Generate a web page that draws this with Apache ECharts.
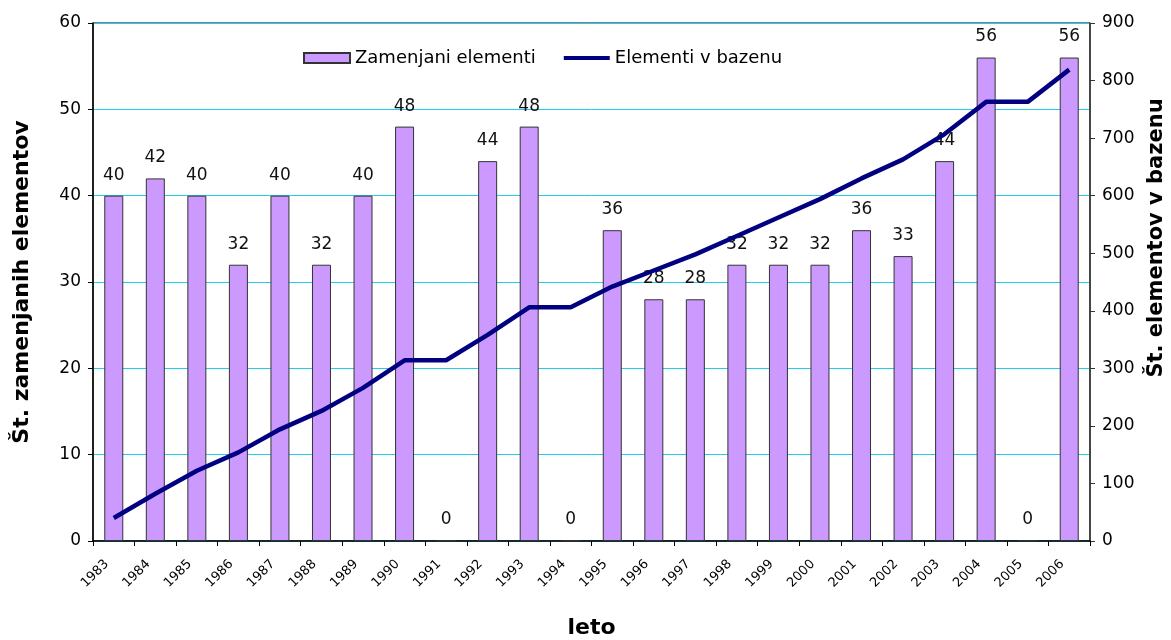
<!DOCTYPE html>
<html>
<head>
<meta charset="utf-8">
<script src="https://cdn.jsdelivr.net/npm/echarts@6/dist/echarts.min.js"></script>
<style>
  html, body { margin: 0; padding: 0; background: #fff; }
  #chart { width: 1171px; height: 640px; }
</style>
</head>
<body>
<div id="chart"></div>
<script>
// leto (years)
var years = ['1983', '1984', '1985', '1986', '1987', '1988', '1989', '1990', '1991', '1992', '1993', '1994',
             '1995', '1996', '1997', '1998', '1999', '2000', '2001', '2002', '2003', '2004', '2005', '2006'];
// zamenjani elementi (bars, left axis)
var replaced = [40, 42, 40, 32, 40, 32, 40, 48, 0, 44, 48, 0,
                36, 28, 28, 32, 32, 32, 36, 33, 44, 56, 0, 56];
// elementi v bazenu (line, right axis)
var inPool = [40, 82, 122, 154, 194, 226, 266, 314, 314, 358, 406, 406,
              442, 470, 498, 530, 562, 594, 630, 663, 707, 763, 763, 819];

var font = 'DejaVu Sans, Verdana, sans-serif';
var gridCyan = '#22ccee';

var chart = echarts.init(document.getElementById('chart'));
chart.setOption({
  animation: false,
  textStyle: { fontFamily: font },
  grid: {
    left: 93, right: 81, top: 23, bottom: 99,
    outerBoundsMode: 'none',
    show: true, borderColor: '#000', borderWidth: 1, backgroundColor: 'transparent'
  },
  legend: {
    left: 298, top: 44,
    itemWidth: 46, itemHeight: 10, itemGap: 26,
    textStyle: { fontSize: 18, color: '#000', fontFamily: font },
    data: [
      { name: 'Zamenjani elementi', icon: 'rect' },
      { name: 'Elementi v bazenu', itemStyle: { opacity: 0 }, lineStyle: { width: 4, color: '#000080' } }
    ]
  },
  xAxis: {
    type: 'category',
    data: years,
    name: 'leto',
    nameLocation: 'middle',
    nameGap: 76,
    nameTextStyle: { fontSize: 22, fontWeight: 'bold', color: '#000' },
    axisLine: { lineStyle: { color: '#000', width: 1.5 } },
    axisTick: { show: true, length: 5, lineStyle: { color: '#000' } },
    axisLabel: { rotate: 45, fontSize: 13, color: '#000', margin: 14, padding: [0, 10, 0, 0] },
    splitLine: { show: false }
  },
  yAxis: [
    {
      type: 'value', min: 0, max: 60, interval: 10,
      name: 'Št. zamenjanih elementov',
      nameLocation: 'middle', nameGap: 60,
      nameTextStyle: { fontSize: 22, fontWeight: 'bold', color: '#000' },
      axisLine: { show: true, lineStyle: { color: '#000', width: 1.5 } },
      axisTick: { show: true, length: 5, lineStyle: { color: '#000' } },
      axisLabel: { fontSize: 17, color: '#000', margin: 12 },
      splitLine: { show: true, lineStyle: { color: gridCyan, width: 1 } }
    },
    {
      type: 'value', min: 0, max: 900, interval: 100,
      name: 'Št. elementov v bazenu',
      nameLocation: 'middle', nameGap: 56,
      nameTextStyle: { fontSize: 21, fontWeight: 'bold', color: '#000', padding: [0, 0, 0, 88] },
      axisLine: { show: true, lineStyle: { color: '#333', width: 1.5 } },
      axisTick: { show: true, length: 5, lineStyle: { color: '#333' } },
      axisLabel: { fontSize: 17, color: '#000', margin: 12 },
      splitLine: { show: false }
    }
  ],
  series: [
    {
      name: 'Zamenjani elementi',
      type: 'bar',
      yAxisIndex: 0,
      data: replaced,
      barWidth: 19,
      itemStyle: { color: '#cc99ff', borderColor: '#333', borderWidth: 1 },
      label: { show: true, position: 'top', distance: 12, fontSize: 17, color: '#111' }
    },
    {
      name: 'Elementi v bazenu',
      type: 'line',
      yAxisIndex: 1,
      data: inPool,
      symbol: 'none',
      z: 5,
      lineStyle: { color: '#000080', width: 4.5 },
      itemStyle: { color: '#000080' }
    }
  ]
});
</script>
</body>
</html>
